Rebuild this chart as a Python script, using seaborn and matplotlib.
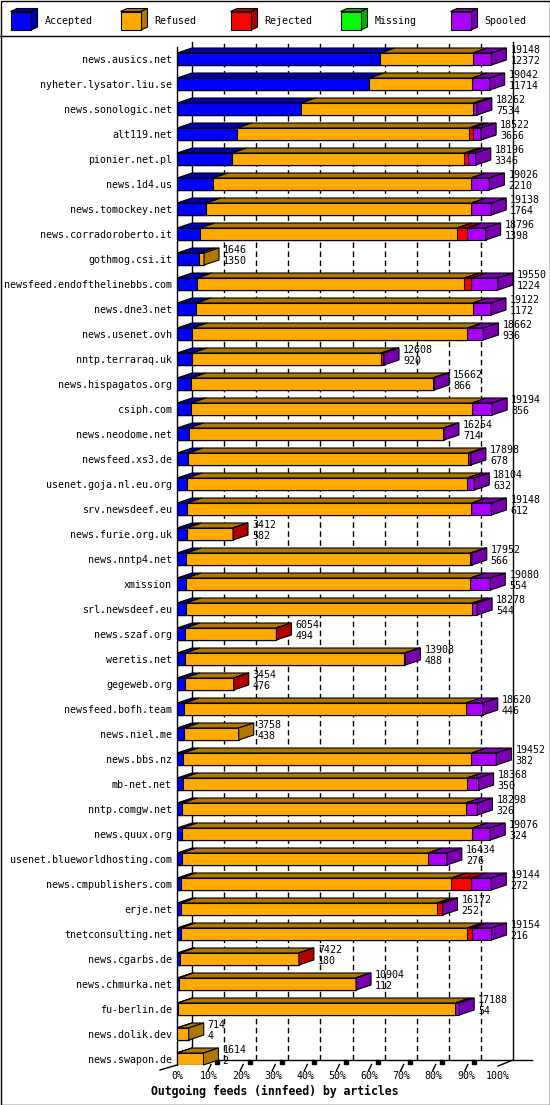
import pandas as pd
import matplotlib
matplotlib.use('Agg')
import matplotlib.pyplot as plt
from matplotlib.patches import Polygon, Rectangle
import seaborn as sns

# Daten (innfeed, Artikel pro Peer)
hosts = ['news.ausics.net', 'nyheter.lysator.liu.se', 'news.sonologic.net', 'alt119.net',
         'pionier.net.pl', 'news.1d4.us', 'news.tomockey.net', 'news.corradoroberto.it',
         'gothmog.csi.it', 'newsfeed.endofthelinebbs.com', 'news.dne3.net', 'news.usenet.ovh',
         'nntp.terraraq.uk', 'news.hispagatos.org', 'csiph.com', 'news.neodome.net',
         'newsfeed.xs3.de', 'usenet.goja.nl.eu.org', 'srv.newsdeef.eu', 'news.furie.org.uk',
         'news.nntp4.net', 'xmission', 'srl.newsdeef.eu', 'news.szaf.org', 'weretis.net',
         'gegeweb.org', 'newsfeed.bofh.team', 'news.niel.me', 'news.bbs.nz', 'mb-net.net',
         'nntp.comgw.net', 'news.quux.org', 'usenet.blueworldhosting.com',
         'news.cmpublishers.com', 'erje.net', 'tnetconsulting.net', 'news.cgarbs.de',
         'news.chmurka.net', 'fu-berlin.de', 'news.dolik.dev', 'news.swapon.de']
offered = [19148, 19042, 18262, 18522, 18196, 19026, 19138, 18796, 1646, 19550, 19122,
           18662, 12608, 15662, 19194, 16254, 17898, 18104, 19148, 3412, 17952, 19080,
           18278, 6054, 13908, 3454, 18620, 3758, 19452, 18368, 18298, 19076, 16434,
           19144, 16172, 19154, 7422, 10904, 17188, 714, 1614]
accepted = [12372, 11714, 7534, 3656, 3346, 2210, 1764, 1398, 1350, 1224, 1172, 936, 920,
            866, 856, 714, 678, 632, 612, 582, 566, 554, 544, 494, 488, 476, 446, 438,
            382, 350, 326, 324, 276, 272, 252, 216, 180, 112, 54, 4, 2]
refused = [5630, 6255, 10520, 14117, 14160, 15683, 16159, 15652, 296, 16283, 16834, 16755,
           11505, 14695, 17105, 15500, 17058, 17047, 17322, 2820, 17300, 17311, 17451,
           5550, 13360, 2968, 17160, 3320, 17553, 17309, 17263, 17660, 15002, 16445,
           15556, 17461, 7232, 10760, 16870, 710, 1612]
rejected = [0, 0, 0, 243, 243, 0, 0, 609, 0, 425, 0, 0, 142, 0, 0, 0, 0, 0, 0, 10, 0, 0,
            0, 10, 0, 10, 0, 0, 0, 0, 0, 0, 0, 1214, 304, 303, 10, 0, 0, 0, 0]
missing = [0] * len(hosts)  # kein Missing in der Grafik
spooled = [1146, 1073, 208, 506, 447, 1133, 1215, 1137, 0, 1618, 1116, 971, 41, 101,
           1233, 40, 162, 425, 1214, 0, 86, 1215, 283, 0, 60, 0, 1014, 0, 1517, 709, 709,
           1092, 1156, 1213, 60, 1174, 0, 32, 264, 0, 0]

series = ['Accepted', 'Refused', 'Rejected', 'Missing', 'Spooled']
front = {'Accepted': '#0000ff', 'Refused': '#ffaa00', 'Rejected': '#ff0000',
         'Missing': '#00ff00', 'Spooled': '#aa00ff'}
dark = {'Accepted': '#0000b0', 'Refused': '#b07800', 'Rejected': '#b00000',
        'Missing': '#00b000', 'Spooled': '#7800b0'}

plt.rcParams['font.family'] = ['DejaVu Sans Mono']
FS = 7.2

df = pd.DataFrame({'host': hosts, 'Accepted': accepted, 'Refused': refused,
                   'Rejected': rejected, 'Missing': missing, 'Spooled': spooled})
scale = max(offered)
pct = df[series] / scale * 100
cum = pct.cumsum(axis=1)
cum['host'] = hosts

# Geometrie in Pixeln
W, H = 550, 1105
PX = 3.21           # Pixel pro Prozent
DX = 15 / PX        # Tiefe x
DY = 5 / 25         # Tiefe y (Zeilen)
BAR_H = 0.48
Y_TOP, Y_BOT = -0.68, 40.24
AX_H = 1065 - 42
BACK = 5 / AX_H     # hintere Bodenlinie als Achsenanteil

fig = plt.figure(figsize=(W / 100, H / 100), dpi=100)
ax = fig.add_axes([177 / W, 1 - 1065 / H, 321 / W, AX_H / H], zorder=1)
ax.set_facecolor('none')

# Vorderseiten der gestapelten Balken
for s in reversed(series):
    sns.barplot(data=cum, x=s, y='host', orient='h', color=front[s], saturation=1,
                width=BAR_H, edgecolor='black', linewidth=0.8, errorbar=None, ax=ax,
                zorder=3)

# Hintergrund-Gitter (hintere Ebene)
yb_back = Y_BOT - DY
line_kw = dict(color='black', lw=1.0, zorder=1, clip_on=False)
for k in range(1, 10):
    ax.axvline(10 * k + DX, ymin=BACK, ymax=1, linestyle=(0, (4, 2.5)), **line_kw)
    ax.plot([10 * k - 0.3, 10 * k + 0.6], [Y_BOT + 0.22, Y_BOT - 0.02], **line_kw)
    ax.plot([10 * k + 2.6], [Y_BOT - 0.12], marker='s', ms=2.2, **line_kw)
for xx in [DX, 100 + DX]:
    ax.axvline(xx, ymin=BACK, ymax=1, **line_kw)
ax.axvline(0, ymin=0, ymax=1 - 5 / AX_H, **line_kw)
ax.plot([DX, 100 + DX + 19 / PX], [yb_back, yb_back], **line_kw)
ax.plot([100, 100 + DX], [Y_BOT + 0.04, yb_back], **line_kw)
ax.plot([-17 / PX, 0], [Y_BOT + 0.2, Y_BOT], **line_kw)

# Ober- und Seitenflaechen + Zahlen
for i in range(len(hosts)):
    yt = i - BAR_H / 2
    yb = i + BAR_H / 2
    x0 = 0
    last = series[0]
    for s in series:
        x1 = cum.loc[i, s]
        if x1 > x0:
            ax.add_patch(Polygon([(x0, yt), (x1, yt), (x1 + DX, yt - DY), (x0 + DX, yt - DY)],
                                 fc=dark[s], ec='black', lw=0.8, zorder=3, clip_on=False))
            last = s
        x0 = x1
    ax.add_patch(Polygon([(x0, yt), (x0 + DX, yt - DY), (x0 + DX, yb - DY), (x0, yb)],
                         fc=dark[last], ec='black', lw=0.8, zorder=3, clip_on=False))
    xt = x0 + DX + 4 / PX
    ax.text(xt, i - 0.36, str(offered[i]), fontsize=FS, va='center', ha='left', zorder=4)
    ax.text(xt, i + 0.08, str(accepted[i]), fontsize=FS, va='center', ha='left', zorder=4)

ax.set_xlim(0, 100)
ax.set_ylim(Y_BOT, Y_TOP)
ax.set_xticks(range(0, 101, 10))
ax.set_xticklabels([f'{k}%' for k in range(0, 101, 10)], fontsize=FS)
ax.tick_params(axis='x', length=0, pad=4.5)
ax.tick_params(axis='y', length=0, pad=3.6, labelsize=FS)
ax.set_xlabel('')
ax.set_ylabel('')
for sp in ax.spines.values():
    sp.set_visible(False)

# Rahmen und Legende (Pixelkoordinaten, ueber der Grafik)
bg = fig.add_axes([0, 0, 1, 1], zorder=2)
bg.set_xlim(0, W)
bg.set_ylim(H, 0)
bg.axis('off')
bg.add_patch(Rectangle((0.5, 0.5), W - 1, H - 1, fill=False, lw=1, ec='black'))
bg.plot([0, W], [36, 36], color='black', lw=1)
for j, s in enumerate(series):
    x0 = 10.5 + 110 * j
    bg.add_patch(Polygon([(x0, 11.5), (x0 + 20.5, 11.5), (x0 + 27, 8.5), (x0 + 6.5, 8.5)],
                         fc=dark[s], ec='black', lw=0.8))
    bg.add_patch(Polygon([(x0 + 20.5, 11.5), (x0 + 27, 8.5), (x0 + 27, 27), (x0 + 20.5, 30)],
                         fc=dark[s], ec='black', lw=0.8))
    bg.add_patch(Rectangle((x0, 11.5), 20.5, 18.5, fc=front[s], ec='black', lw=0.8))
    bg.text(x0 + 34, 21, s, fontsize=FS, va='center', ha='left')

fig.text(275 / W, 1 - 1091 / H, 'Outgoing feeds (innfeed) by articles', ha='center',
         va='center', fontsize=8.3, fontweight='bold')

fig.savefig('out.png', dpi=100, facecolor='white')
plt.close()
